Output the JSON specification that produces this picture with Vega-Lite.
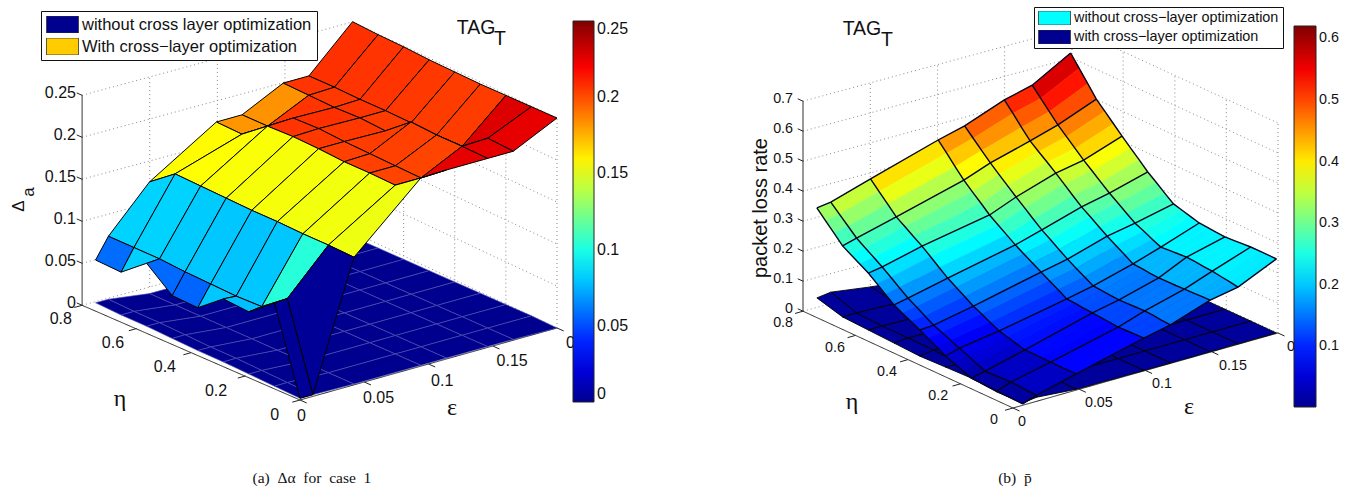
{"$schema":"https://vega.github.io/schema/vega-lite/v6.json","width":1348,"height":488,"padding":0,"autosize":{"type":"none"},"background":"white","config":{"view":{"stroke":null}},
"datasets":{
"ma":[
{"i":7,"j":0,"z":0.257,"l":0.001},{"i":6,"j":0,"z":0.207,"l":0.001},{"i":5,"j":0,"z":0.207,"l":0.001},{"i":4,"j":0,"z":0.183,"l":0.001},{"i":3,"j":0,"z":0.183,"l":0.001},{"i":2,"j":0,"z":0.134,"l":0.001},{"i":1,"j":0,"z":0.083,"l":0.008},{"i":0,"j":0,"z":0.059,"l":0.008},
{"i":7,"j":1,"z":0.255,"l":0.001},{"i":6,"j":1,"z":0.207,"l":0.001},{"i":5,"j":1,"z":0.206,"l":0.001},{"i":4,"j":1,"z":0.183,"l":0.001},{"i":3,"j":1,"z":0.182,"l":0.001},{"i":2,"j":1,"z":0.157,"l":0.001},{"i":1,"j":1,"z":0.083,"l":0.007},{"i":0,"j":1,"z":0.058,"l":0.007},
{"i":7,"j":2,"z":0.254,"l":0.001},{"i":6,"j":2,"z":0.206,"l":0.001},{"i":5,"j":2,"z":0.205,"l":0.001},{"i":4,"j":2,"z":0.206,"l":0.001},{"i":3,"j":2,"z":0.205,"l":0.001},{"i":2,"j":2,"z":0.156,"l":0.001},{"i":1,"j":2,"z":0.083,"l":0.007},{"i":0,"j":2,"z":0.082,"l":0.007},
{"i":7,"j":3,"z":0.252,"l":0.001},{"i":6,"j":3,"z":0.206,"l":0.001},{"i":5,"j":3,"z":0.206,"l":0.001},{"i":4,"j":3,"z":0.207,"l":0.001},{"i":3,"j":3,"z":0.206,"l":0.001},{"i":2,"j":3,"z":0.155,"l":0.001},{"i":1,"j":3,"z":0.081,"l":0.006},{"i":0,"j":3,"z":0.057,"l":0.006},
{"i":7,"j":4,"z":0.251,"l":0.001},{"i":6,"j":4,"z":0.205,"l":0.001},{"i":5,"j":4,"z":0.204,"l":0.001},{"i":4,"j":4,"z":0.205,"l":0.001},{"i":3,"j":4,"z":0.205,"l":0.001},{"i":2,"j":4,"z":0.154,"l":0.001},{"i":1,"j":4,"z":0.08,"l":0.005},{"i":0,"j":4,"z":0.056,"l":0.005},
{"i":7,"j":5,"z":0.25,"l":0.001},{"i":6,"j":5,"z":0.204,"l":0.001},{"i":5,"j":5,"z":0.228,"l":0.001},{"i":4,"j":5,"z":0.204,"l":0.001},{"i":3,"j":5,"z":0.203,"l":0.001},{"i":2,"j":5,"z":0.154,"l":0.001},{"i":1,"j":5,"z":0.079,"l":0.005},{"i":0,"j":5,"z":0.08,"l":0.005},
{"i":7,"j":6,"z":0.25,"l":0.001},{"i":6,"j":6,"z":0.204,"l":0.001},{"i":5,"j":6,"z":0.226,"l":0.001},{"i":4,"j":6,"z":0.203,"l":0.001},{"i":3,"j":6,"z":0.203,"l":0.001},{"i":2,"j":6,"z":0.153,"l":0.001},{"i":1,"j":6,"z":0.08,"l":0.004},{"i":0,"j":6,"z":0.078,"l":0.004},
{"i":7,"j":7,"z":0.25,"l":0.001},{"i":6,"j":7,"z":0.227,"l":0.001},{"i":5,"j":7,"z":0.226,"l":0.001},{"i":4,"j":7,"z":0.202,"l":0.001},{"i":3,"j":7,"z":0.202,"l":0.001},{"i":2,"j":7,"z":0.153,"l":0.001},{"i":1,"j":7,"z":0.103,"l":0.003},{"i":0,"j":7,"z":0.102,"l":0.003},
{"i":7,"j":8,"z":0.25,"l":0.0},{"i":6,"j":8,"z":0.225,"l":0.001},{"i":5,"j":8,"z":0.225,"l":0.001},{"i":4,"j":8,"z":0.225,"l":0.001},{"i":3,"j":8,"z":0.224,"l":0.001},{"i":2,"j":8,"z":0.152,"l":0.001},{"i":1,"j":8,"z":0.002,"l":0.002},{"i":0,"j":8,"z":0.002,"l":0.002}],
"mb":[
{"i":7,"j":0,"z":0.618},{"i":6,"j":0,"z":0.547},{"i":5,"j":0,"z":0.524},{"i":4,"j":0,"z":0.475},{"i":3,"j":0,"z":0.453},{"i":2,"j":0,"z":0.387},{"i":1,"j":0,"z":0.347},{"i":0,"j":0,"z":0.341},
{"i":7,"j":1,"z":0.58},{"i":6,"j":1,"z":0.516},{"i":5,"j":1,"z":0.492},{"i":4,"j":1,"z":0.447},{"i":3,"j":1,"z":0.422},{"i":2,"j":1,"z":0.358},{"i":1,"j":1,"z":0.32},{"i":0,"j":1,"z":0.312},
{"i":7,"j":2,"z":0.542},{"i":6,"j":2,"z":0.485},{"i":5,"j":2,"z":0.459},{"i":4,"j":2,"z":0.419},{"i":3,"j":2,"z":0.39},{"i":2,"j":2,"z":0.329},{"i":1,"j":2,"z":0.294},{"i":0,"j":2,"z":0.283},
{"i":7,"j":3,"z":0.504},{"i":6,"j":3,"z":0.454},{"i":5,"j":3,"z":0.427},{"i":4,"j":3,"z":0.391},{"i":3,"j":3,"z":0.359},{"i":2,"j":3,"z":0.3},{"i":1,"j":3,"z":0.267},{"i":0,"j":3,"z":0.254},
{"i":7,"j":4,"z":0.476},{"i":6,"j":4,"z":0.428},{"i":5,"j":4,"z":0.404},{"i":4,"j":4,"z":0.366},{"i":3,"j":4,"z":0.333},{"i":2,"j":4,"z":0.281},{"i":1,"j":4,"z":0.248},{"i":0,"j":4,"z":0.237},
{"i":7,"j":5,"z":0.448},{"i":6,"j":5,"z":0.402},{"i":5,"j":5,"z":0.382},{"i":4,"j":5,"z":0.342},{"i":3,"j":5,"z":0.308},{"i":2,"j":5,"z":0.261},{"i":1,"j":5,"z":0.229},{"i":0,"j":5,"z":0.22},
{"i":7,"j":6,"z":0.42},{"i":6,"j":6,"z":0.376},{"i":5,"j":6,"z":0.359},{"i":4,"j":6,"z":0.317},{"i":3,"j":6,"z":0.282},{"i":2,"j":6,"z":0.242},{"i":1,"j":6,"z":0.21},{"i":0,"j":6,"z":0.203},
{"i":7,"j":7,"z":0.393},{"i":6,"j":7,"z":0.353},{"i":5,"j":7,"z":0.335},{"i":4,"j":7,"z":0.294},{"i":3,"j":7,"z":0.262},{"i":2,"j":7,"z":0.22},{"i":1,"j":7,"z":0.189},{"i":0,"j":7,"z":0.181},
{"i":7,"j":8,"z":0.367},{"i":6,"j":8,"z":0.329},{"i":5,"j":8,"z":0.31},{"i":4,"j":8,"z":0.27},{"i":3,"j":8,"z":0.242},{"i":2,"j":8,"z":0.197},{"i":1,"j":8,"z":0.167},{"i":0,"j":8,"z":0.158},
{"i":7,"j":9,"z":0.34},{"i":6,"j":9,"z":0.306},{"i":5,"j":9,"z":0.286},{"i":4,"j":9,"z":0.247},{"i":3,"j":9,"z":0.222},{"i":2,"j":9,"z":0.175},{"i":1,"j":9,"z":0.146},{"i":0,"j":9,"z":0.136},
{"i":7,"j":10,"z":0.318},{"i":6,"j":10,"z":0.286},{"i":5,"j":10,"z":0.267},{"i":4,"j":10,"z":0.228},{"i":3,"j":10,"z":0.205},{"i":2,"j":10,"z":0.157},{"i":1,"j":10,"z":0.129},{"i":0,"j":10,"z":0.121},
{"i":7,"j":11,"z":0.295},{"i":6,"j":11,"z":0.265},{"i":5,"j":11,"z":0.247},{"i":4,"j":11,"z":0.208},{"i":3,"j":11,"z":0.188},{"i":2,"j":11,"z":0.139},{"i":1,"j":11,"z":0.112},{"i":0,"j":11,"z":0.107},
{"i":7,"j":12,"z":0.273},{"i":6,"j":12,"z":0.245},{"i":5,"j":12,"z":0.228},{"i":4,"j":12,"z":0.189},{"i":3,"j":12,"z":0.171},{"i":2,"j":12,"z":0.121},{"i":1,"j":12,"z":0.095},{"i":0,"j":12,"z":0.092},
{"i":7,"j":13,"z":0.265},{"i":6,"j":13,"z":0.232},{"i":5,"j":13,"z":0.21},{"i":4,"j":13,"z":0.172},{"i":3,"j":13,"z":0.154},{"i":2,"j":13,"z":0.107},{"i":1,"j":13,"z":0.083},{"i":0,"j":13,"z":0.076},
{"i":7,"j":14,"z":0.257},{"i":6,"j":14,"z":0.218},{"i":5,"j":14,"z":0.193},{"i":4,"j":14,"z":0.156},{"i":3,"j":14,"z":0.138},{"i":2,"j":14,"z":0.092},{"i":1,"j":14,"z":0.07},{"i":0,"j":14,"z":0.061},
{"i":7,"j":15,"z":0.249},{"i":6,"j":15,"z":0.205},{"i":5,"j":15,"z":0.175},{"i":4,"j":15,"z":0.139},{"i":3,"j":15,"z":0.121},{"i":2,"j":15,"z":0.078},{"i":1,"j":15,"z":0.058},{"i":0,"j":15,"z":0.045},
{"i":7,"j":16,"z":0.247},{"i":6,"j":16,"z":0.207},{"i":5,"j":16,"z":0.173},{"i":4,"j":16,"z":0.137},{"i":3,"j":16,"z":0.119},{"i":2,"j":16,"z":0.07},{"i":1,"j":16,"z":0.046},{"i":0,"j":16,"z":0.034},
{"i":7,"j":17,"z":0.244},{"i":6,"j":17,"z":0.209},{"i":5,"j":17,"z":0.17},{"i":4,"j":17,"z":0.134},{"i":3,"j":17,"z":0.116},{"i":2,"j":17,"z":0.062},{"i":1,"j":17,"z":0.033},{"i":0,"j":17,"z":0.022},
{"i":7,"j":18,"z":0.242},{"i":6,"j":18,"z":0.211},{"i":5,"j":18,"z":0.168},{"i":4,"j":18,"z":0.132},{"i":3,"j":18,"z":0.114},{"i":2,"j":18,"z":0.054},{"i":1,"j":18,"z":0.021},{"i":0,"j":18,"z":0.011},
{"i":7,"j":19,"z":0.244},{"i":6,"j":19,"z":0.209},{"i":5,"j":19,"z":0.169},{"i":4,"j":19,"z":0.133},{"i":3,"j":19,"z":0.111},{"i":2,"j":19,"z":0.054},{"i":1,"j":19,"z":0.022},{"i":0,"j":19,"z":0.01},
{"i":7,"j":20,"z":0.246},{"i":6,"j":20,"z":0.206},{"i":5,"j":20,"z":0.169},{"i":4,"j":20,"z":0.134},{"i":3,"j":20,"z":0.109},{"i":2,"j":20,"z":0.053},{"i":1,"j":20,"z":0.023},{"i":0,"j":20,"z":0.008},
{"i":7,"j":21,"z":0.248},{"i":6,"j":21,"z":0.204},{"i":5,"j":21,"z":0.17},{"i":4,"j":21,"z":0.135},{"i":3,"j":21,"z":0.106},{"i":2,"j":21,"z":0.053},{"i":1,"j":21,"z":0.024},{"i":0,"j":21,"z":0.007},
{"i":7,"j":22,"z":0.248},{"i":6,"j":22,"z":0.199},{"i":5,"j":22,"z":0.171},{"i":4,"j":22,"z":0.133},{"i":3,"j":22,"z":0.107},{"i":2,"j":22,"z":0.053},{"i":1,"j":22,"z":0.023},{"i":0,"j":22,"z":0.006},
{"i":7,"j":23,"z":0.248},{"i":6,"j":23,"z":0.195},{"i":5,"j":23,"z":0.172},{"i":4,"j":23,"z":0.13},{"i":3,"j":23,"z":0.108},{"i":2,"j":23,"z":0.053},{"i":1,"j":23,"z":0.021},{"i":0,"j":23,"z":0.005},
{"i":7,"j":24,"z":0.248},{"i":6,"j":24,"z":0.19},{"i":5,"j":24,"z":0.173},{"i":4,"j":24,"z":0.128},{"i":3,"j":24,"z":0.109},{"i":2,"j":24,"z":0.053},{"i":1,"j":24,"z":0.02},{"i":0,"j":24,"z":0.004}],
"lb":[
{"i":7,"j":0,"z":0.001},{"i":6,"j":0,"z":0.001},{"i":5,"j":0,"z":0.001},{"i":4,"j":0,"z":0.001},{"i":3,"j":0,"z":0.001},{"i":2,"j":0,"z":0.027},{"i":1,"j":0,"z":0.047},{"i":0,"j":0,"z":0.041},
{"i":7,"j":1,"z":0.001},{"i":6,"j":1,"z":0.001},{"i":5,"j":1,"z":0.001},{"i":4,"j":1,"z":0.001},{"i":3,"j":1,"z":0.001},{"i":2,"j":1,"z":0.012},{"i":1,"j":1,"z":0.017},{"i":0,"j":1,"z":0.017},
{"i":7,"j":2,"z":0.001},{"i":6,"j":2,"z":0.001},{"i":5,"j":2,"z":0.001},{"i":4,"j":2,"z":0.001},{"i":3,"j":2,"z":0.001},{"i":2,"j":2,"z":0.01},{"i":1,"j":2,"z":0.013},{"i":0,"j":2,"z":0.013},
{"i":7,"j":3,"z":0.001},{"i":6,"j":3,"z":0.001},{"i":5,"j":3,"z":0.001},{"i":4,"j":3,"z":0.001},{"i":3,"j":3,"z":0.001},{"i":2,"j":3,"z":0.008},{"i":1,"j":3,"z":0.013},{"i":0,"j":3,"z":0.009},
{"i":7,"j":4,"z":0.001},{"i":6,"j":4,"z":0.001},{"i":5,"j":4,"z":0.001},{"i":4,"j":4,"z":0.001},{"i":3,"j":4,"z":0.001},{"i":2,"j":4,"z":0.006},{"i":1,"j":4,"z":0.012},{"i":0,"j":4,"z":0.005},
{"i":7,"j":5,"z":0.001},{"i":6,"j":5,"z":0.001},{"i":5,"j":5,"z":0.001},{"i":4,"j":5,"z":0.001},{"i":3,"j":5,"z":0.001},{"i":2,"j":5,"z":0.004},{"i":1,"j":5,"z":0.006},{"i":0,"j":5,"z":0.008},
{"i":7,"j":6,"z":0.001},{"i":6,"j":6,"z":0.001},{"i":5,"j":6,"z":0.001},{"i":4,"j":6,"z":0.001},{"i":3,"j":6,"z":0.001},{"i":2,"j":6,"z":0.004},{"i":1,"j":6,"z":0.017},{"i":0,"j":6,"z":0.011},
{"i":7,"j":7,"z":0.001},{"i":6,"j":7,"z":0.001},{"i":5,"j":7,"z":0.001},{"i":4,"j":7,"z":0.001},{"i":3,"j":7,"z":0.001},{"i":2,"j":7,"z":0.003},{"i":1,"j":7,"z":0.02},{"i":0,"j":7,"z":0.004},
{"i":7,"j":8,"z":0.001},{"i":6,"j":8,"z":0.001},{"i":5,"j":8,"z":0.001},{"i":4,"j":8,"z":0.001},{"i":3,"j":8,"z":0.001},{"i":2,"j":8,"z":0.002},{"i":1,"j":8,"z":0.013},{"i":0,"j":8,"z":0.007}],
"frame":[
{"p":"a","k":"g","e":[0,0.2,0.2],"h":[0.81,0.76,0],"v":[-0.002,0.0067,0]},{"p":"a","k":"g","e":[0,0.2,0.2],"h":[0.81,0.76,0],"v":[0.048,0.0567,0.05]},{"p":"a","k":"g","e":[0,0.2,0.2],"h":[0.81,0.76,0],"v":[0.098,0.1067,0.1]},{"p":"a","k":"g","e":[0,0.2,0.2],"h":[0.81,0.76,0],"v":[0.148,0.1567,0.15]},{"p":"a","k":"g","e":[0,0.2,0.2],"h":[0.81,0.76,0],"v":[0.198,0.2067,0.2]},{"p":"a","k":"g","e":[0,0.2,0.2],"h":[0.81,0.76,0],"v":[0.248,0.2567,0.25]},
{"p":"a","k":"g","e":[0.05,0.05],"h":[0.7975,0.7975],"v":[0,0.25]},{"p":"a","k":"g","e":[0.1,0.1],"h":[0.785,0.785],"v":[0.002,0.252]},{"p":"a","k":"g","e":[0.15,0.15],"h":[0.7725,0.7725],"v":[0.0045,0.2545]},{"p":"a","k":"g","e":[0.2,0.2],"h":[0.76,0.76],"v":[0.0067,0.2567]},{"p":"a","k":"g","e":[0.2,0.2],"h":[0.57,0.57],"v":[0.005,0.255]},{"p":"a","k":"g","e":[0.2,0.2],"h":[0.38,0.38],"v":[0.003,0.253]},{"p":"a","k":"g","e":[0.2,0.2],"h":[0.19,0.19],"v":[0.002,0.252]},{"p":"a","k":"g","e":[0.2,0.2],"h":[0,0],"v":[0,0.25]},
{"p":"a","k":"a","e":[0,0],"h":[0.81,0.81],"v":[-0.002,0.248]},{"p":"a","k":"a","e":[0,0],"h":[0.81,0],"v":[-0.002,0]},{"p":"a","k":"a","e":[0,0.2],"h":[0,0],"v":[0,0]},
{"p":"b","k":"g","e":[0,0.2,0.2],"h":[0.8,0.785,0],"v":[0,0,0]},{"p":"b","k":"g","e":[0,0.2,0.2],"h":[0.8,0.785,0],"v":[0.1,0.1,0.1]},{"p":"b","k":"g","e":[0,0.2,0.2],"h":[0.8,0.785,0],"v":[0.2,0.2,0.2]},{"p":"b","k":"g","e":[0,0.2,0.2],"h":[0.8,0.785,0],"v":[0.3,0.3,0.3]},{"p":"b","k":"g","e":[0,0.2,0.2],"h":[0.8,0.785,0],"v":[0.4,0.4,0.4]},{"p":"b","k":"g","e":[0,0.2,0.2],"h":[0.8,0.785,0],"v":[0.5,0.5,0.5]},{"p":"b","k":"g","e":[0,0.2,0.2],"h":[0.8,0.785,0],"v":[0.6,0.6,0.6]},{"p":"b","k":"g","e":[0,0.2,0.2],"h":[0.8,0.785,0],"v":[0.7,0.7,0.7]},
{"p":"b","k":"g","e":[0.05,0.05],"h":[0.796,0.796],"v":[0,0.7]},{"p":"b","k":"g","e":[0.1,0.1],"h":[0.7925,0.7925],"v":[0,0.7]},{"p":"b","k":"g","e":[0.15,0.15],"h":[0.789,0.789],"v":[0,0.7]},{"p":"b","k":"g","e":[0.2,0.2],"h":[0.785,0.785],"v":[0,0.7]},{"p":"b","k":"g","e":[0.2,0.2],"h":[0.59,0.59],"v":[0,0.7]},{"p":"b","k":"g","e":[0.2,0.2],"h":[0.393,0.393],"v":[0,0.7]},{"p":"b","k":"g","e":[0.2,0.2],"h":[0.197,0.197],"v":[0,0.7]},{"p":"b","k":"g","e":[0.2,0.2],"h":[0,0],"v":[0,0.7]},
{"p":"b","k":"a","e":[0,0],"h":[0.8,0.8],"v":[0,0.7]},{"p":"b","k":"a","e":[0,0],"h":[0.8,0],"v":[0,0]},{"p":"b","k":"a","e":[0,0.2],"h":[0,0],"v":[0,0]}],
"ticks":[
{"p":"a","d":"z","e":0,"h":0.81,"v":-0.002},{"p":"a","d":"z","e":0,"h":0.81,"v":0.048},{"p":"a","d":"z","e":0,"h":0.81,"v":0.098},{"p":"a","d":"z","e":0,"h":0.81,"v":0.148},{"p":"a","d":"z","e":0,"h":0.81,"v":0.198},{"p":"a","d":"z","e":0,"h":0.81,"v":0.248},
{"p":"a","d":"h","e":0,"h":0,"v":0},{"p":"a","d":"h","e":0,"h":0.2025,"v":0},{"p":"a","d":"h","e":0,"h":0.405,"v":-0.001},{"p":"a","d":"h","e":0,"h":0.6075,"v":-0.001},{"p":"a","d":"h","e":0,"h":0.81,"v":-0.002},
{"p":"a","d":"e","e":0,"h":0,"v":0},{"p":"a","d":"e","e":0.05,"h":0,"v":0},{"p":"a","d":"e","e":0.1,"h":0,"v":0},{"p":"a","d":"e","e":0.15,"h":0,"v":0},{"p":"a","d":"e","e":0.2,"h":0,"v":0},
{"p":"b","d":"z","e":0,"h":0.8,"v":0},{"p":"b","d":"z","e":0,"h":0.8,"v":0.1},{"p":"b","d":"z","e":0,"h":0.8,"v":0.2},{"p":"b","d":"z","e":0,"h":0.8,"v":0.3},{"p":"b","d":"z","e":0,"h":0.8,"v":0.4},{"p":"b","d":"z","e":0,"h":0.8,"v":0.5},{"p":"b","d":"z","e":0,"h":0.8,"v":0.6},{"p":"b","d":"z","e":0,"h":0.8,"v":0.7},
{"p":"b","d":"h","e":0,"h":0,"v":0},{"p":"b","d":"h","e":0,"h":0.2,"v":0},{"p":"b","d":"h","e":0,"h":0.4,"v":0},{"p":"b","d":"h","e":0,"h":0.6,"v":0},{"p":"b","d":"h","e":0,"h":0.8,"v":0},
{"p":"b","d":"e","e":0,"h":0,"v":0},{"p":"b","d":"e","e":0.05,"h":0,"v":0},{"p":"b","d":"e","e":0.1,"h":0,"v":0},{"p":"b","d":"e","e":0.15,"h":0,"v":0},{"p":"b","d":"e","e":0.2,"h":0,"v":0}],
"labels":[
{"p":"a","a":"r","e":0,"h":0.833,"v":-0.0024,"t":"0"},{"p":"a","a":"r","e":0,"h":0.833,"v":0.0476,"t":"0.05"},{"p":"a","a":"r","e":0,"h":0.833,"v":0.0976,"t":"0.1"},{"p":"a","a":"r","e":0,"h":0.833,"v":0.1476,"t":"0.15"},{"p":"a","a":"r","e":0,"h":0.833,"v":0.1976,"t":"0.2"},{"p":"a","a":"r","e":0,"h":0.833,"v":0.2476,"t":"0.25"},
{"p":"a","a":"r","e":-0.0163,"h":0,"v":-0.0108,"t":"0"},{"p":"a","a":"r","e":-0.0163,"h":0.193,"v":-0.0096,"t":"0.2"},{"p":"a","a":"r","e":-0.0163,"h":0.383,"v":-0.008,"t":"0.4"},{"p":"a","a":"r","e":-0.0163,"h":0.576,"v":-0.0068,"t":"0.6"},{"p":"a","a":"r","e":-0.0163,"h":0.77,"v":-0.0056,"t":"0.8"},
{"p":"a","a":"l","e":-0.0023,"h":0,"v":-0.018,"t":"0"},{"p":"a","a":"l","e":0.049,"h":0,"v":-0.0186,"t":"0.05"},{"p":"a","a":"l","e":0.102,"h":0,"v":-0.021,"t":"0.1"},{"p":"a","a":"l","e":0.153,"h":0,"v":-0.019,"t":"0.15"},{"p":"a","a":"l","e":0.207,"h":0,"v":-0.021,"t":"0.2"},
{"p":"b","a":"r","e":0,"h":0.838,"v":-0.008,"t":"0"},{"p":"b","a":"r","e":0,"h":0.838,"v":0.092,"t":"0.1"},{"p":"b","a":"r","e":0,"h":0.838,"v":0.192,"t":"0.2"},{"p":"b","a":"r","e":0,"h":0.838,"v":0.292,"t":"0.3"},{"p":"b","a":"r","e":0,"h":0.838,"v":0.392,"t":"0.4"},{"p":"b","a":"r","e":0,"h":0.838,"v":0.492,"t":"0.5"},{"p":"b","a":"r","e":0,"h":0.838,"v":0.592,"t":"0.6"},{"p":"b","a":"r","e":0,"h":0.838,"v":0.692,"t":"0.7"},
{"p":"b","a":"r","e":-0.0113,"h":0,"v":-0.026,"t":"0"},{"p":"b","a":"r","e":-0.0113,"h":0.19,"v":-0.0227,"t":"0.2"},{"p":"b","a":"r","e":-0.0113,"h":0.385,"v":-0.0213,"t":"0.4"},{"p":"b","a":"r","e":-0.0113,"h":0.583,"v":-0.0209,"t":"0.6"},{"p":"b","a":"r","e":-0.0113,"h":0.781,"v":-0.0177,"t":"0.8"},
{"p":"b","a":"l","e":0.0038,"h":0,"v":-0.0513,"t":"0"},{"p":"b","a":"l","e":0.0543,"h":0,"v":-0.0513,"t":"0.05"},{"p":"b","a":"l","e":0.1049,"h":0,"v":-0.051,"t":"0.1"},{"p":"b","a":"l","e":0.1555,"h":0,"v":-0.0543,"t":"0.15"},{"p":"b","a":"l","e":0.2068,"h":0,"v":-0.0553,"t":"0.2"}],
"notes":[
{"p":"a","r":"sym","e":0,"h":0.669,"v":-0.0936,"t":"η"},{"p":"a","r":"sym","e":0.1183,"h":0,"v":-0.0602,"t":"ε"},{"p":"a","r":"cap","e":0.0093,"h":0,"v":-0.0969,"t":"(a)\u00a0\u00a0Δα\u00a0\u00a0for\u00a0\u00a0case\u00a0\u00a01"},
{"p":"b","r":"sym","e":0,"h":0.613,"v":-0.227,"t":"η"},{"p":"b","r":"sym","e":0.1328,"h":0,"v":-0.1627,"t":"ε"},{"p":"b","r":"cap","e":0.0015,"h":0,"v":-0.2353,"t":"(b)\u00a0\u00a0p̄"}],
"tags":[{"p":"a","e":0.137,"h":0,"v":0.384,"t":"TAG"},{"p":"a","e":0.1556,"h":0,"v":0.3631,"t":"T"},{"p":"b","e":-0.114,"h":0,"v":1.406,"t":"TAG"},{"p":"b","e":-0.0951,"h":0,"v":1.3457,"t":"T"}],
"rot":[{"p":"a","r":"d","e":0,"h":1.0446,"v":0.083,"t":"Δ"},{"p":"a","r":"s","e":0,"h":1.0074,"v":0.1049,"t":"a"},{"p":"b","r":"d","e":0,"h":0.96,"v":0.2793,"t":"packet loss rate"}]
},
"encoding":{"x":{"field":"sx","type":"quantitative","scale":{"domain":[0,1348],"nice":false,"zero":false},"axis":null},"y":{"field":"sy","type":"quantitative","scale":{"domain":[488,0],"nice":false,"zero":false},"axis":null}},
"layer":[
{"data":{"name":"frame"},"transform":[{"window":[{"op":"row_number","as":"id"}]},{"flatten":["e","h","v"]},{"calculate":"datum.p=='a'?300+1285*datum.e-269*datum.h:1013+1325*datum.e-262.5*datum.h","as":"sx"},{"calculate":"datum.p=='a'?400-360*datum.e-119*datum.h-840*datum.v:408-375*datum.e-121*datum.h-300*datum.v","as":"sy"}],
"mark":{"type":"line","strokeWidth":1},"encoding":{"detail":{"field":"id"},"stroke":{"field":"k","type":"nominal","scale":{"domain":["a","g"],"range":["#222222","#8a8a8a"]},"legend":null},"strokeDash":{"field":"k","type":"nominal","scale":{"domain":["a","g"],"range":[[1,0],[1,3]]},"legend":null}}},
{"data":{"name":"ticks"},"transform":[{"calculate":"datum.p=='a'?300+1285*datum.e-269*datum.h:1013+1325*datum.e-262.5*datum.h","as":"sx"},{"calculate":"datum.p=='a'?400-360*datum.e-119*datum.h-840*datum.v:408-375*datum.e-121*datum.h-300*datum.v","as":"sy"},{"calculate":"datum.e+(datum.d=='h'?-0.006:0)","as":"e2"},{"calculate":"datum.h+(datum.d=='z'?0.02:(datum.d=='e'?-0.025:0))","as":"h2"},{"calculate":"datum.p=='a'?300+1285*datum.e2-269*datum.h2:1013+1325*datum.e2-262.5*datum.h2","as":"sx2"},{"calculate":"datum.p=='a'?400-360*datum.e2-119*datum.h2-840*datum.v:408-375*datum.e2-121*datum.h2-300*datum.v","as":"sy2"}],
"mark":{"type":"rule","color":"#222222","strokeWidth":1},"encoding":{"x2":{"field":"sx2"},"y2":{"field":"sy2"}}},
{"data":{"name":"labels"},"transform":[{"filter":"datum.a=='r'"},{"calculate":"datum.p=='a'?300+1285*datum.e-269*datum.h:1013+1325*datum.e-262.5*datum.h","as":"sx"},{"calculate":"datum.p=='a'?400-360*datum.e-119*datum.h-840*datum.v:408-375*datum.e-121*datum.h-300*datum.v","as":"sy"}],
"mark":{"type":"text","align":"right","baseline":"middle","font":"Liberation Sans","color":"#111111"},"encoding":{"text":{"field":"t"},"size":{"condition":{"test":"datum.p=='a'","value":16},"value":14.3}}},
{"data":{"name":"labels"},"transform":[{"filter":"datum.a=='l'"},{"calculate":"datum.p=='a'?300+1285*datum.e-269*datum.h:1013+1325*datum.e-262.5*datum.h","as":"sx"},{"calculate":"datum.p=='a'?400-360*datum.e-119*datum.h-840*datum.v:408-375*datum.e-121*datum.h-300*datum.v","as":"sy"}],
"mark":{"type":"text","align":"left","baseline":"middle","font":"Liberation Sans","color":"#111111"},"encoding":{"text":{"field":"t"},"size":{"condition":{"test":"datum.p=='a'","value":16},"value":14.3}}},
{"data":{"name":"ma"},"transform":[{"calculate":"[0,0.01,0.042,0.094,0.114,0.146,0.166,0.2][datum.i]","as":"e"},{"calculate":"0.76-0.095*datum.j","as":"h"},{"calculate":"[0,1,2,3]","as":"k"},{"flatten":["k"]},{"calculate":"datum.i-((datum.k==1||datum.k==2)?1:0)","as":"ci"},{"calculate":"datum.j-(datum.k>=2?1:0)","as":"cj"},{"filter":"datum.ci>=0&&datum.cj>=0&&datum.ci<7&&datum.cj<8"},{"calculate":"datum.ci*100+datum.cj","as":"cell"},{"calculate":"300+1285*datum.e-269*datum.h","as":"sx"},{"calculate":"400-360*datum.e-119*datum.h-840*datum.l","as":"sy"}],
"mark":{"type":"line","interpolate":"linear-closed","fill":"#00008f","stroke":"#4f4fb0","strokeWidth":0.6},"encoding":{"detail":{"field":"cell"},"order":{"field":"k"}}},
{"data":{"name":"ma"},"transform":[{"calculate":"[0,0.01,0.042,0.094,0.114,0.146,0.166,0.2][datum.i]","as":"e"},{"calculate":"0.76-0.095*datum.j","as":"h"},{"calculate":"[0,1,2,3]","as":"k"},{"flatten":["k"]},{"calculate":"datum.i-((datum.k==1||datum.k==2)?1:0)","as":"ci"},{"calculate":"datum.j-(datum.k>=2?1:0)","as":"cj"},{"filter":"datum.ci>=0&&datum.cj>=0&&datum.ci<7&&datum.cj<8"},{"calculate":"datum.ci*100+datum.cj","as":"cell"},{"calculate":"datum.k==3?datum.z:null","as":"cz"},{"joinaggregate":[{"op":"max","field":"cz","as":"col"}],"groupby":["cell"]},{"calculate":"300+1285*datum.e-269*datum.h","as":"sx"},{"calculate":"400-360*datum.e-119*datum.h-840*datum.z","as":"sy"}],
"mark":{"type":"line","interpolate":"linear-closed","stroke":"#000000","strokeWidth":1},"encoding":{"detail":{"field":"cell"},"order":{"field":"k"},"fill":{"field":"col","type":"quantitative","scale":{"domain":[0,0.03125,0.09375,0.15625,0.21875,0.25],"range":["#00008f","#0000ff","#00ffff","#ffff00","#ff0000","#800000"],"interpolate":"rgb"},"legend":{"orient":"none","legendX":573,"legendY":21,"title":null,"direction":"vertical","gradientLength":381,"gradientThickness":21,"gradientStrokeColor":"#222222","gradientStrokeWidth":1,"values":[0,0.05,0.1,0.15,0.2,0.25],"labelExpr":"format(datum.value,'.2~f')","labelFont":"Liberation Sans","labelFontSize":16,"labelColor":"#111111","labelOverlap":false,"labelOffset":3}}}},
{"data":{"name":"lb"},"transform":[{"calculate":"[0.0075,0.018,0.048,0.099,0.119,0.149,0.17,0.199][datum.i]","as":"e"},{"calculate":"0.785-0.098*datum.j","as":"h"},{"calculate":"[0,1,2,3]","as":"k"},{"flatten":["k"]},{"calculate":"datum.i-((datum.k==1||datum.k==2)?1:0)","as":"ci"},{"calculate":"datum.j-(datum.k>=2?1:0)","as":"cj"},{"filter":"datum.ci>=0&&datum.cj>=0&&datum.ci<7&&datum.cj<8"},{"calculate":"datum.ci*100+datum.cj","as":"cell"},{"calculate":"1013+1325*datum.e-262.5*datum.h","as":"sx"},{"calculate":"408-375*datum.e-121*datum.h-300*datum.z","as":"sy"}],
"mark":{"type":"line","interpolate":"linear-closed","fill":"#00009a","stroke":"#000000","strokeWidth":0.9},"encoding":{"detail":{"field":"cell"},"order":{"field":"k"}}},
{"data":{"name":"mb"},"transform":[{"calculate":"[0.0075,0.018,0.048,0.099,0.119,0.149,0.17,0.199][datum.i]","as":"e"},{"calculate":"0.785-0.098*datum.j/3","as":"h"},{"calculate":"[0,1,2,3]","as":"k"},{"flatten":["k"]},{"calculate":"datum.i-((datum.k==1||datum.k==2)?1:0)","as":"ci"},{"calculate":"datum.j-(datum.k>=2?1:0)","as":"cj"},{"filter":"datum.ci>=0&&datum.cj>=0&&datum.ci<7&&datum.cj<24"},{"calculate":"datum.ci*100+datum.cj","as":"cell"},{"joinaggregate":[{"op":"mean","field":"z","as":"col"}],"groupby":["cell"]},{"calculate":"1013+1325*datum.e-262.5*datum.h","as":"sx"},{"calculate":"408-375*datum.e-121*datum.h-300*datum.z","as":"sy"}],
"mark":{"type":"line","interpolate":"linear-closed","strokeWidth":0.6},"encoding":{"detail":{"field":"cell"},"order":{"field":"k"},"stroke":{"field":"col","type":"quantitative","scale":{"domain":[0.0015,0.0788,0.2334,0.3881,0.5427,0.62],"range":["#00008f","#0000ff","#00ffff","#ffff00","#ff0000","#800000"],"interpolate":"rgb"},"legend":null},"fill":{"field":"col","type":"quantitative","scale":{"domain":[0.0015,0.0788,0.2334,0.3881,0.5427,0.62],"range":["#00008f","#0000ff","#00ffff","#ffff00","#ff0000","#800000"],"interpolate":"rgb"},"legend":null}}},
{"data":{"name":"mb"},"transform":[{"filter":"datum.j%3==0"},{"calculate":"[0.0075,0.018,0.048,0.099,0.119,0.149,0.17,0.199][datum.i]","as":"e"},{"calculate":"0.785-0.098*datum.j/3","as":"h"},{"calculate":"1013+1325*datum.e-262.5*datum.h","as":"sx"},{"calculate":"408-375*datum.e-121*datum.h-300*datum.z","as":"sy"}],
"mark":{"type":"line","color":"#05051f","strokeWidth":1.4},"encoding":{"detail":{"field":"j"},"order":{"field":"i"}}},
{"data":{"name":"mb"},"transform":[{"calculate":"[0.0075,0.018,0.048,0.099,0.119,0.149,0.17,0.199][datum.i]","as":"e"},{"calculate":"0.785-0.098*datum.j/3","as":"h"},{"calculate":"1013+1325*datum.e-262.5*datum.h","as":"sx"},{"calculate":"408-375*datum.e-121*datum.h-300*datum.z","as":"sy"}],
"mark":{"type":"line","color":"#05051f","strokeWidth":1.4},"encoding":{"detail":{"field":"i"},"order":{"field":"j"}}},
{"data":{"name":"tags"},"transform":[{"calculate":"datum.p=='a'?300+1285*datum.e-269*datum.h:1013+1325*datum.e-262.5*datum.h","as":"sx"},{"calculate":"datum.p=='a'?400-360*datum.e-119*datum.h-840*datum.v:408-375*datum.e-121*datum.h-300*datum.v","as":"sy"}],
"mark":{"type":"text","align":"center","baseline":"middle","font":"Liberation Sans","fontSize":19.5,"color":"#111111"},"encoding":{"text":{"field":"t"}}},
{"data":{"name":"notes"},"transform":[{"calculate":"datum.p=='a'?300+1285*datum.e-269*datum.h:1013+1325*datum.e-262.5*datum.h","as":"sx"},{"calculate":"datum.p=='a'?400-360*datum.e-119*datum.h-840*datum.v:408-375*datum.e-121*datum.h-300*datum.v","as":"sy"}],
"mark":{"type":"text","align":"center","baseline":"middle","font":"Liberation Serif","color":"#111111"},"encoding":{"text":{"field":"t"},"size":{"condition":{"test":"datum.r=='cap'","value":15.5},"value":24}}},
{"data":{"name":"rot"},"transform":[{"calculate":"datum.p=='a'?300+1285*datum.e-269*datum.h:1013+1325*datum.e-262.5*datum.h","as":"sx"},{"calculate":"datum.p=='a'?400-360*datum.e-119*datum.h-840*datum.v:408-375*datum.e-121*datum.h-300*datum.v","as":"sy"}],
"mark":{"type":"text","align":"center","baseline":"middle","angle":270,"font":"Liberation Sans","color":"#111111"},"encoding":{"text":{"field":"t"},"size":{"condition":{"test":"datum.p=='a'","value":17},"value":20}}},
{"data":{"values":[{"c":0.0015},{"c":0.62}]},"mark":{"type":"point","filled":true,"opacity":0,"size":1},"encoding":{"x":{"value":0},"y":{"value":0},"fill":{"field":"c","type":"quantitative","scale":{"domain":[0.0015,0.0788,0.2334,0.3881,0.5427,0.62],"range":["#00008f","#0000ff","#00ffff","#ffff00","#ff0000","#800000"],"interpolate":"rgb"},"legend":{"type":"gradient","orient":"none","legendX":1294,"legendY":26,"title":null,"direction":"vertical","gradientLength":381,"gradientThickness":22,"gradientOpacity":1,"gradientStrokeColor":"#222222","gradientStrokeWidth":1,"values":[0.1,0.2,0.3,0.4,0.5,0.6],"labelExpr":"format(datum.value,'.1f')","labelFont":"Liberation Sans","labelFontSize":14.3,"labelColor":"#111111","labelOverlap":false,"labelOffset":3}}}},
{"data":{"values":[{"n":"without cross layer optimization"},{"n":"With cross−layer optimization"}]},"mark":{"type":"point","filled":true,"opacity":0,"size":1},"encoding":{"x":{"value":0},"y":{"value":0},"fill":{"field":"n","type":"nominal","scale":{"domain":["without cross layer optimization","With cross−layer optimization"],"range":["#00008f","#ffcc00"]},"legend":{"orient":"none","legendX":41,"legendY":11,"title":null,"direction":"vertical","columns":1,"fillColor":"white","strokeColor":"#111111","padding":5,"symbolType":"M-1,-0.53H1V0.53H-1Z","symbolSize":1024,"clipHeight":17,"rowPadding":5,"symbolOpacity":1,"symbolStrokeColor":"#333333","symbolStrokeWidth":0.8,"labelFont":"Liberation Sans","labelFontSize":16.5,"labelLimit":400,"labelColor":"#111111","labelOffset":3}}}},
{"data":{"values":[{"n":"without cross−layer optimization"},{"n":"with cross−layer optimization"}]},"mark":{"type":"point","filled":true,"opacity":0,"size":1},"encoding":{"x":{"value":0},"y":{"value":0},"fill":{"field":"n","type":"nominal","scale":{"domain":["without cross−layer optimization","with cross−layer optimization"],"range":["#00ffff","#00008f"]},"legend":{"orient":"none","legendX":1034,"legendY":7,"title":null,"direction":"vertical","columns":1,"fillColor":"white","strokeColor":"#111111","padding":4,"symbolType":"M-1,-0.44H1V0.44H-1Z","symbolSize":1024,"clipHeight":14,"rowPadding":4,"symbolOpacity":1,"symbolStrokeColor":"#333333","symbolStrokeWidth":0.8,"labelFont":"Liberation Sans","labelFontSize":14.4,"labelLimit":400,"labelColor":"#111111","labelOffset":3}}}}
],
"resolve":{"scale":{"fill":"independent","stroke":"independent"},"legend":{"fill":"independent"}}}
